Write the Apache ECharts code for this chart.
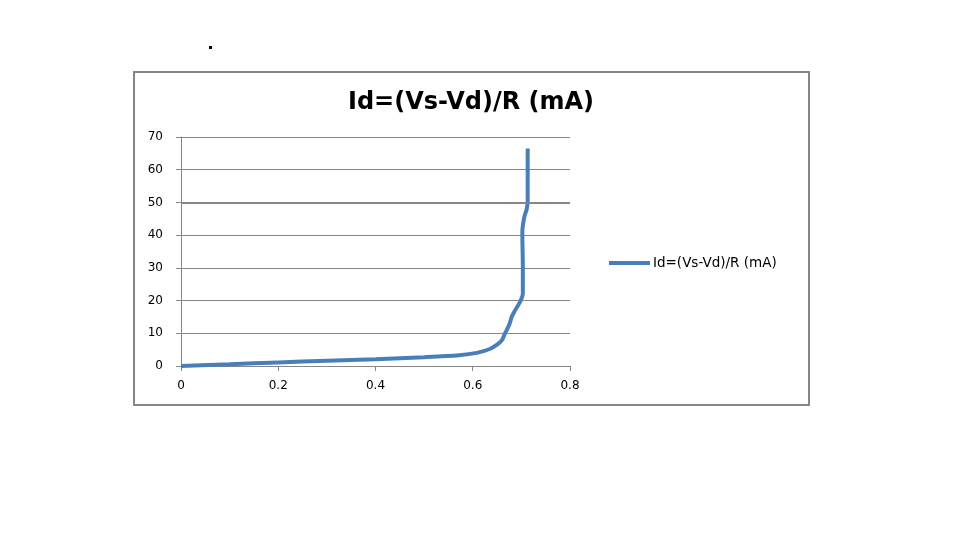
<!DOCTYPE html>
<html><head><meta charset="utf-8">
<script src="https://cdn.jsdelivr.net/npm/echarts@6/dist/echarts.min.js"></script>
<style>html,body{margin:0;padding:0;background:#fff}#c{width:960px;height:540px}</style>
</head><body><div id="c"></div>
<script>
const seriesName = 'Id=(Vs-Vd)/R (mA)';
const voltage = [0, 0.1, 0.2, 0.3, 0.4, 0.5, 0.572, 0.608, 0.635, 0.65, 0.66, 0.665, 0.67, 0.676, 0.68, 0.687, 0.695, 0.7, 0.703, 0.703, 0.702, 0.706, 0.711, 0.713, 0.713, 0.713];
const current = [0, 0.55, 1.1, 1.6, 2.1, 2.7, 3.3, 4.0, 5.2, 6.5, 7.9, 9.5, 11, 13, 15, 17, 19, 20.5, 22, 30, 41, 45.5, 48, 50.5, 58, 66.5];
const xTicks = [0, 0.2, 0.4, 0.6, 0.8];
const yTicks = [0, 10, 20, 30, 40, 50, 60, 70];

const chart = echarts.init(document.getElementById('c'), null, {renderer: 'canvas'});
const font = 'DejaVu Sans';
chart.setOption({
  animation: false,
  backgroundColor: '#fff',
  title: {
    text: seriesName, left: 471, top: 91, textAlign: 'center', padding: 0,
    textStyle: {fontFamily: font, fontWeight: 'bold', fontSize: 24, color: '#000'}
  },
  legend: {
    left: 609, top: 256, itemWidth: 41, itemHeight: 4, padding: 0,
    icon: 'rect',
    textStyle: {fontFamily: font, fontSize: 13.5, color: '#000', padding: [0,0,0,-2]},
    data: [seriesName]
  },
  grid: {left: 181, right: 390, top: 137, bottom: 174},
  xAxis: {
    type: 'value', min: xTicks[0], max: xTicks[xTicks.length-1], interval: 0.2,
    axisLine: {show: true, lineStyle: {color: '#868686', width: 1}},
    axisTick: {show: true, length: 5, lineStyle: {color: '#868686'}},
    axisLabel: {fontFamily: font, fontSize: 12, color: '#000', margin: 14},
    splitLine: {show: false}
  },
  yAxis: {
    type: 'value', min: yTicks[0], max: yTicks[yTicks.length-1], interval: 10,
    axisLine: {show: true, lineStyle: {color: '#868686', width: 1}},
    axisTick: {show: true, length: 5, lineStyle: {color: '#868686'}},
    axisLabel: {fontFamily: font, fontSize: 12, color: '#000', margin: 18},
    splitLine: {show: true, lineStyle: {color: '#868686', width: 1}}
  },
  series: [{
    name: seriesName, type: 'line', showSymbol: false, smooth: 0.3,
    lineStyle: {color: '#4a7ebb', width: 4}, itemStyle: {color: '#4a7ebb'},
    data: voltage.map((v, i) => [v, current[i]]),
    markLine: {silent: true, symbol: 'none', label: {show: false},
      lineStyle: {color: '#868686', width: 2, type: 'solid'}, data: [{yAxis: 50}]}
  }],
  graphic: [
    {type: 'rect', shape: {x: 134, y: 72, width: 675, height: 333},
     style: {fill: null, stroke: '#868686', lineWidth: 2}, z: -1},
    {type: 'rect', shape: {x: 209, y: 46, width: 3, height: 3}, style: {fill: '#000'}}
  ]
});
</script></body></html>
